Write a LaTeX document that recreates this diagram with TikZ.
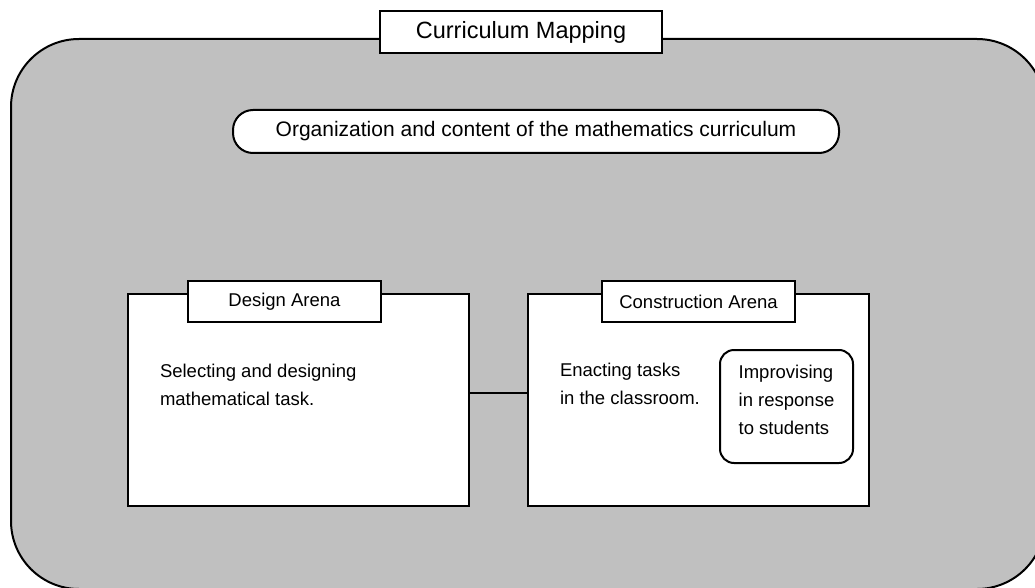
\documentclass[tikz,border=0pt]{standalone}
\usepackage{fontspec}
\setmainfont{Liberation Sans}
\usepackage{tikz}
\usetikzlibrary{positioning}
\definecolor{mapgray}{HTML}{C0C0C0}

\begin{document}
\begin{tikzpicture}[x=1pt, y=-1pt, line width=2pt,
        tab/.style={draw, fill=white, minimum width=193pt, minimum height=41pt, inner sep=0pt,
            font=\fontsize{18.5}{22}\selectfont},
        arena/.style={draw, fill=white, minimum width=341pt, minimum height=212pt, inner sep=0pt},
        body/.style={align=left, anchor=north west, inner sep=0pt,
            font=\fontsize{18.5}{28}\selectfont}]
        \useasboundingbox (0,0) rectangle (1035,588);

        \node[draw, fill=mapgray, rounded corners=68pt, minimum width=1034pt, minimum height=550pt] (mapping) at (528,314) {};
        \node[draw, fill=white, minimum width=282pt, minimum height=42pt, inner sep=0pt,
            font=\fontsize{23.5}{26}\selectfont] (title) at (521,32) {Curriculum Mapping};
        \node[draw, fill=white, rounded corners=20pt, minimum width=606pt, minimum height=43pt, inner sep=0pt,
            font=\fontsize{21}{24}\selectfont] (content) at (536,131.5) {Organization and content of the mathematics curriculum};

        \node[arena] (design) at (298.5,400) {};
        \node[arena] (construction) at (698.5,400) {};
        \draw ([yshift=7pt]design.east) -- ([yshift=7pt]construction.west);

        \node[tab] (designtab) at (284.5,301.5) {Design Arena};
        \node[tab] (constructiontab) at (698.5,301.5) {Construction Arena};

        \node[body] (selecting) at (159,363.5) {Selecting and designing\\mathematical task.};
        \node[body] (enacting) at (559,362.5) {Enacting tasks\\in the classroom.};
        \node[draw, fill=white, rounded corners=14pt, minimum width=133pt, minimum height=113pt,
            inner sep=0pt, text depth=14pt, align=left, font=\fontsize{18.5}{28}\selectfont] (improvising) at (786.5,406.5)
            {Improvising\\in response\\to students};
    \end{tikzpicture}
\end{document}
